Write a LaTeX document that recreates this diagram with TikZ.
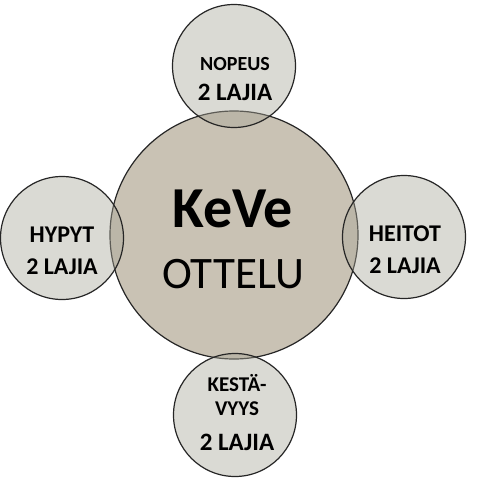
\documentclass[tikz,border=0pt]{standalone}
\usepackage{fontspec}
\setmainfont{Carlito}
\definecolor{centrefill}{RGB}{201,194,180}
\definecolor{ringfill}{RGB}{168,166,152}
\begin{document}
\begin{tikzpicture}[x=1pt,y=-1pt,
  bigring/.style={circle,draw=black!85,line width=1.2pt,fill=centrefill,minimum size=248pt,inner sep=0pt},
  smallring/.style={circle,draw=black!85,line width=1.2pt,fill=ringfill,fill opacity=0.42,minimum size=123pt,inner sep=0pt},
  lbl/.style={align=center,inner sep=0pt,anchor=base,font=\bfseries\fontsize{24}{32}\selectfont}]
  \useasboundingbox (0,0) rectangle (492,479);
  % the big circle and the four small ones
  \node[bigring] (keve) at (234,235) {};
  \node[smallring] (nopeus) at (234,66) {};
  \node[smallring] (hypyt) at (62,238) {};
  \node[smallring] (heitot) at (404,237) {};
  \node[smallring] (kestavyys) at (235,415) {};
  % texts
  \node[lbl,font=\fontsize{45}{61}\selectfont] (keveTxt) at (233,288)
    {{\fontsize{58}{61}\selectfont\bfseries KeVe}\\OTTELU};
  \node[lbl,font=\bfseries\fontsize{25}{30}\selectfont] (nopeusTxt) at (235,100)
    {{\fontsize{20}{30}\selectfont NOPEUS}\\2 LAJIA};
  \node[lbl] (hypytTxt) at (62,274) {HYPYT\\2 LAJIA};
  \node[lbl] (heitotTxt) at (405,273) {HEITOT\\2 LAJIA};
  \node[lbl,font=\bfseries\fontsize{21}{24}\selectfont] (kestavyysTxt) at (237,450)
    {KESTÄ-\\VYYS\\[11pt]{\fontsize{25}{24}\selectfont 2 LAJIA}};
\end{tikzpicture}
\end{document}
